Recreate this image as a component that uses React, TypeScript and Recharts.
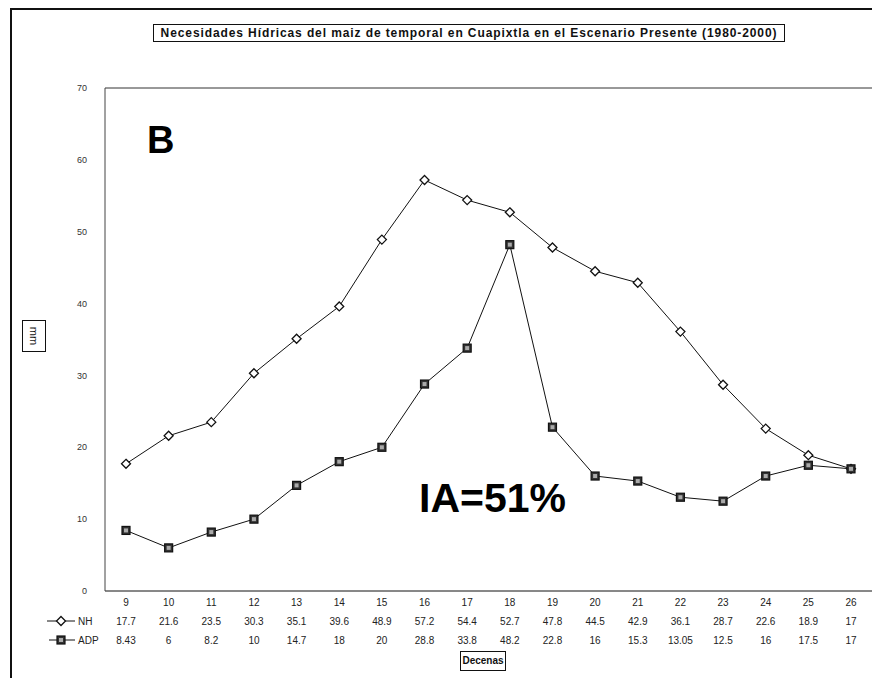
import { LineChart, Line, XAxis, YAxis, ReferenceLine } from 'recharts'

const decenas = ['9', '10', '11', '12', '13', '14', '15', '16', '17', '18', '19', '20', '21', '22', '23', '24', '25', '26']
const nh = [17.7, 21.6, 23.5, 30.3, 35.1, 39.6, 48.9, 57.2, 54.4, 52.7, 47.8, 44.5, 42.9, 36.1, 28.7, 22.6, 18.9, 17]
const adp = [8.43, 6, 8.2, 10, 14.7, 18, 20, 28.8, 33.8, 48.2, 22.8, 16, 15.3, 13.05, 12.5, 16, 17.5, 17]
const yTicks = [0, 10, 20, 30, 40, 50, 60, 70]

const data = decenas.map((d, i) => ({ decena: d, NH: nh[i], ADP: adp[i] }))

const font = 'Liberation Sans, Arial, sans-serif'

function Diamond(props: any) {
  const { cx, cy } = props
  if (cx == null || cy == null) return null
  const r = 4.5
  return (
    <path
      d={`M${cx},${cy - r}L${cx + r},${cy}L${cx},${cy + r}L${cx - r},${cy}Z`}
      fill="#fff"
      stroke="#111"
      strokeWidth={1.3}
    />
  )
}

function Square(props: any) {
  const { cx, cy } = props
  if (cx == null || cy == null) return null
  const s = 4
  return (
    <g>
      <rect x={cx - s} y={cy - s} width={s * 2} height={s * 2} fill="#333" stroke="#111" strokeWidth={1.2} />
      <rect x={cx - 2} y={cy - 2} width={4} height={4} fill="#aaa" />
    </g>
  )
}

function TableTick(props: any) {
  const { x, y, payload } = props
  const i = payload.index
  return (
    <g fontFamily={font} fontSize={10} fill="#222">
      <text x={x} y={y + 13} textAnchor="middle">{payload.value}</text>
      <text x={x} y={y + 32} textAnchor="middle">{String(nh[i])}</text>
      <text x={x} y={y + 51} textAnchor="middle">{String(adp[i])}</text>
    </g>
  )
}

function LegendKeys() {
  return (
    <svg width={110} height={40} style={{ fontFamily: font, fontSize: 10, position: 'absolute', left: 45, top: 612 }}>
      <line x1={2} y1={9} x2={30} y2={9} stroke="#111" />
      <Diamond cx={16} cy={9} />
      <text x={33} y={13} fill="#222">NH</text>
      <line x1={4} y1={28} x2={30} y2={28} stroke="#111" />
      <Square cx={16} cy={28} />
      <text x={33} y={32} fill="#222">ADP</text>
    </svg>
  )
}

export default function App() {
  return (
    <div style={{ position: 'absolute', left: 0, top: 0, width: 872, height: 678, background: '#fff', overflow: 'hidden', fontFamily: font }}>
      <div style={{ position: 'absolute', left: 10, top: 8, width: 870, height: 680, borderLeft: '2px solid #111', borderTop: '2px solid #111' }} />
      <div
        style={{
          position: 'absolute', left: 153, top: 24, width: 630, height: 16, border: '1px solid #111',
          fontSize: 12, fontWeight: 'bold', letterSpacing: 0.9, color: '#111', textAlign: 'center', lineHeight: '16px', whiteSpace: 'nowrap',
        }}
      >
        Necesidades Hídricas del maiz de temporal en Cuapixtla en el Escenario Presente (1980-2000)
      </div>
      <div
        style={{
          position: 'absolute', left: 22, top: 320, width: 22, height: 30, border: '1px solid #111',
          display: 'flex', alignItems: 'center', justifyContent: 'center', fontSize: 11, color: '#111',
        }}
      >
        <span style={{ transform: 'rotate(90deg)', display: 'inline-block' }}>mm</span>
      </div>
      <div style={{ position: 'absolute', left: 147, top: 118, fontSize: 38, fontWeight: 'bold', color: '#000', lineHeight: '44px' }}>B</div>
      <div style={{ position: 'absolute', left: 419, top: 474, fontSize: 41, fontWeight: 'bold', color: '#000', lineHeight: '48px' }}>IA=51%</div>
      <div
        style={{
          position: 'absolute', left: 460, top: 651, width: 44, height: 18, border: '1.5px solid #111',
          fontSize: 10, fontWeight: 'bold', color: '#111', textAlign: 'center', lineHeight: '18px',
        }}
      >
        Decenas
      </div>
      <LegendKeys />
      <div style={{ position: 'absolute', left: 0, top: 0 }}>
        <LineChart width={872} height={678} data={data} margin={{ top: 88, right: 0, bottom: 7, left: 0 }}>
          <XAxis
            dataKey="decena"
            axisLine={{ stroke: '#111' }}
            tickLine={false}
            tickSize={0}
            height={80}
            interval={0}
            padding={{ left: 21, right: 21 }}
            tick={<TableTick />}
          />
          <YAxis
            domain={[0, 70]}
            ticks={yTicks}
            width={105}
            axisLine={{ stroke: '#444' }}
            tickLine={false}
            tickMargin={12}
            tick={{ fontSize: 9, fill: '#333', fontFamily: font }}
          />
          <ReferenceLine y={70} stroke="#333" />
          <Line type="linear" dataKey="NH" stroke="#111" strokeWidth={1} dot={<Diamond />} isAnimationActive={false} />
          <Line type="linear" dataKey="ADP" stroke="#111" strokeWidth={1} dot={<Square />} isAnimationActive={false} />
        </LineChart>
      </div>
    </div>
  )
}
